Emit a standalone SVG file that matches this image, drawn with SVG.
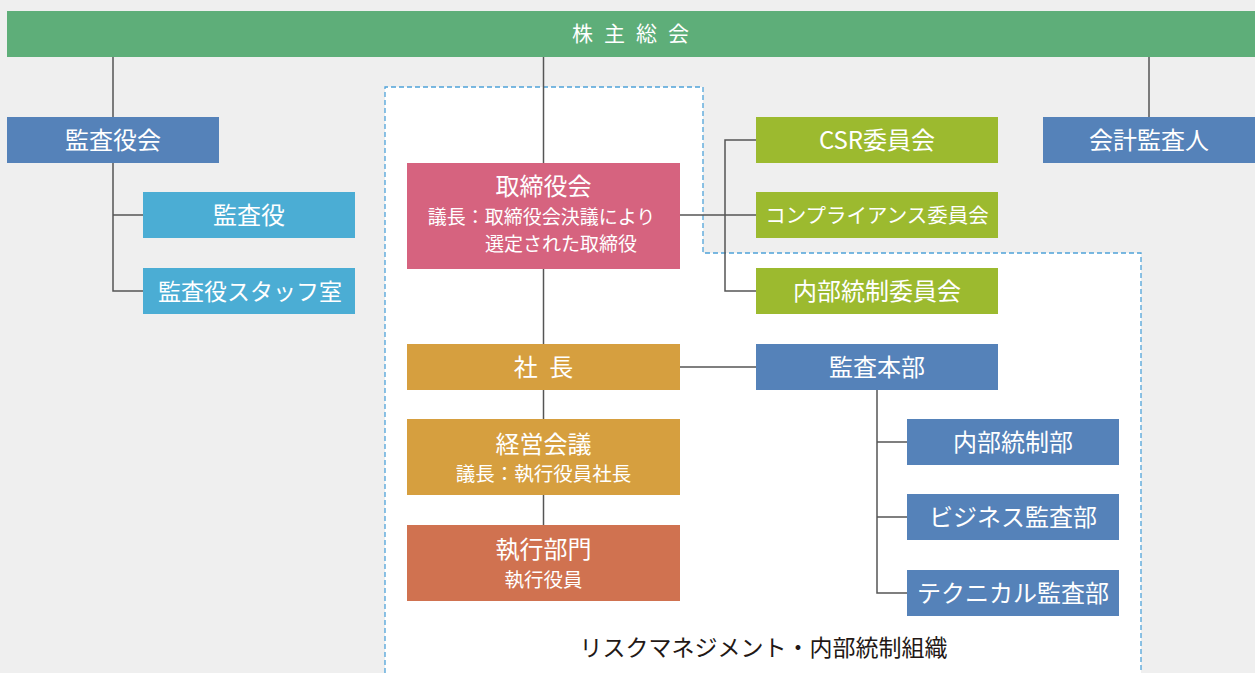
<svg xmlns="http://www.w3.org/2000/svg" width="1255" height="673" viewBox="0 0 1255 673">
<style>
text{font-family:"Noto Sans CJK JP","Noto Sans",sans-serif;fill:#fff;text-anchor:middle}
.t23{font-size:24px}
.t19{font-size:19.5px}
.cap{font-size:23px;fill:#231815}
.ln{stroke:#555;stroke-width:1.5;fill:none}
.blue{fill:#5582b9}
.lblue{fill:#4badd4}
.pink{fill:#d6637f}
.green{fill:#9cba2f}
.gold{fill:#d69f3f}
.terra{fill:#d07250}
</style>
<rect x="0" y="0" width="1255" height="673" fill="#efefef"/>
<path d="M385,673 V87 H703 V253 H1141 V673" fill="#fff" stroke="#4fa3d9" stroke-width="1.3" stroke-dasharray="5 3"/>
<g id="connectors">
<path class="ln" d="M113,56 V117"/>
<path class="ln" d="M113,163 V291 H143 M113,215 H143"/>
<path class="ln" d="M543.5,56 V163"/>
<path class="ln" d="M543.5,269 V344"/>
<path class="ln" d="M543.5,390 V419"/>
<path class="ln" d="M543.5,495 V525"/>
<path class="ln" d="M680,215 H756 M756,140 H725 V291 H756"/>
<path class="ln" d="M680,367 H756"/>
<path class="ln" d="M877,390 V593 H907 M877,442 H907 M877,517 H907"/>
<path class="ln" d="M1149,56 V117"/>
</g>
<g id="shareholders">
<rect x="7" y="11" width="1248" height="46" fill="#5eae79"/>
<text x="636" y="41" style="font-size:21px;letter-spacing:11px">株主総会</text>
</g>
<g id="kansayakukai">
<rect class="blue" x="7" y="117" width="212" height="46"/>
<text class="t23" x="113" y="149">監査役会</text>
</g>
<g id="kansayaku">
<rect class="lblue" x="143" y="192" width="212" height="46"/>
<text class="t23" x="249" y="224">監査役</text>
</g>
<g id="kansayaku-staff">
<rect class="lblue" x="143" y="268" width="212" height="46"/>
<text x="250" y="299.5" style="font-size:23px">監査役スタッフ室</text>
</g>
<g id="torishimariyakukai">
<rect class="pink" x="407" y="163" width="273" height="106"/>
<text class="t23" x="543.5" y="195">取締役会</text>
<text x="541.5" y="223.5" style="font-size:19px">議長：取締役会決議により</text>
<text x="485" y="251" style="font-size:19px;text-anchor:start">選定された取締役</text>
</g>
<g id="csr">
<rect class="green" x="756" y="117" width="242" height="46"/>
<text class="t23" x="877" y="149">CSR委員会</text>
</g>
<g id="compliance">
<rect class="green" x="756" y="192" width="242" height="46"/>
<text x="877" y="223" style="font-size:20.5px">コンプライアンス委員会</text>
</g>
<g id="naibu-iinkai">
<rect class="green" x="756" y="268" width="242" height="46"/>
<text class="t23" x="877" y="300">内部統制委員会</text>
</g>
<g id="kaikei">
<rect class="blue" x="1043" y="117" width="212" height="46"/>
<text class="t23" x="1149" y="149">会計監査人</text>
</g>
<g id="shacho">
<rect class="gold" x="407" y="344" width="273" height="46"/>
<text class="t23" x="543.5" y="376" style="word-spacing:6px">社 長</text>
</g>
<g id="keiei">
<rect class="gold" x="407" y="419" width="273" height="76"/>
<text class="t23" x="543.5" y="452.5">経営会議</text>
<text class="t19" x="543.5" y="480.5">議長：執行役員社長</text>
</g>
<g id="shikko">
<rect class="terra" x="407" y="525" width="273" height="76"/>
<text class="t23" x="543.5" y="558">執行部門</text>
<text class="t19" x="543.5" y="587">執行役員</text>
</g>
<g id="kansahonbu">
<rect class="blue" x="756" y="344" width="242" height="46"/>
<text class="t23" x="877" y="376">監査本部</text>
</g>
<g id="naibu-bu">
<rect class="blue" x="907" y="419" width="212" height="46"/>
<text class="t23" x="1013" y="451">内部統制部</text>
</g>
<g id="business">
<rect class="blue" x="907" y="494" width="212" height="46"/>
<text class="t23" x="1013" y="526">ビジネス監査部</text>
</g>
<g id="technical">
<rect class="blue" x="907" y="570" width="212" height="46"/>
<text class="t23" x="1013" y="602">テクニカル監査部</text>
</g>
<text class="cap" x="763.5" y="656">リスクマネジメント・内部統制組織</text>
</svg>
